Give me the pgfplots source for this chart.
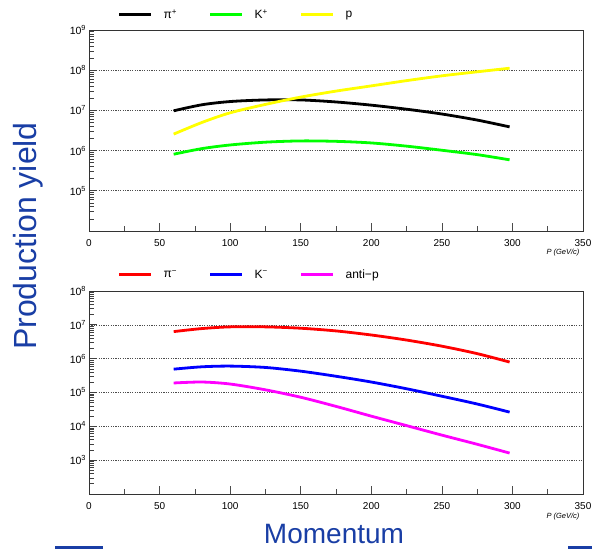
\documentclass[border=0pt]{standalone}
\usepackage{fontspec}
\setmainfont{Liberation Sans}
\usepackage{pgfplots}
\pgfplotsset{compat=1.18}
\definecolor{titleblue}{RGB}{25,62,165}
\definecolor{kgreen}{RGB}{0,255,0}
\definecolor{pyellow}{RGB}{255,255,0}
\definecolor{pimag}{RGB}{255,0,255}
\definecolor{kblue}{RGB}{0,0,255}
\definecolor{pired}{RGB}{255,0,0}

\pgfplotstableread{
x      pip      kp       p
60     9.77e6   8.13e5   2.57e6
80     1.38e7   1.12e6   5.01e6
100    1.66e7   1.38e6   8.71e6
125    1.82e7   1.62e6   1.41e7
150    1.82e7   1.74e6   2.14e7
175    1.62e7   1.70e6   3.02e7
200    1.35e7   1.55e6   4.07e7
225    1.07e7   1.29e6   5.50e7
250    8.13e6   1.02e6   7.24e7
275    5.75e6   7.94e5   9.12e7
298    3.89e6   5.89e5   1.12e8
}\toptable

\pgfplotstableread{
x      pim      km       ap
60     6.31e6   4.90e5   1.91e5
80     7.76e6   5.75e5   2.04e5
100    8.71e6   6.03e5   1.78e5
125    8.71e6   5.50e5   1.20e5
150    7.94e6   4.27e5   7.24e4
175    6.61e6   3.02e5   3.89e4
200    5.01e6   2.04e5   2.00e4
225    3.55e6   1.29e5   1.05e4
250    2.34e6   7.76e4   5.50e3
275    1.41e6   4.57e4   2.95e3
298    7.94e5   2.63e4   1.62e3
}\bottable

\pgfplotsset{
  myaxis/.style={
    scale only axis, width=494pt, xmin=0, xmax=350,
    xtick={0,50,...,350}, minor xtick={25,75,...,325},
    tick align=inside, xtick pos=bottom, ytick pos=left,
    ymajorticks=true, yminorticks=true,
    major tick length=8pt, minor tick length=5pt,
    xtick style={black!70, line width=0.7pt},
    ytick style={black!75, line width=0.7pt},
    axis line style={line width=0.7pt, black!80},
    ymajorgrids, major grid style={black!70, line width=0.6pt, dash pattern=on 1.2pt off 1.2pt},
    tick label style={font=\fontsize{10}{12}\selectfont},
    xticklabel style={yshift=-4.5pt},
    yticklabel style={xshift=-4pt, font=\fontsize{10.5}{12}\selectfont},
    /pgf/number format/assume math mode=true,
    legend columns=3,
    legend style={draw=none, fill=none, inner sep=0pt, outer sep=0pt,
      font=\fontsize{12}{14}\selectfont, anchor=west,
      /tikz/every even column/.append style={column sep=0pt}},
    legend image code/.code={\draw[line width=3pt] (0pt,0pt) -- (32pt,0pt);},
    clip=false,
  }
}

\begin{document}
\begin{tikzpicture}
\useasboundingbox (0,0) rectangle (592pt,549pt);

% top axis
\begin{semilogyaxis}[myaxis, log basis y=10, at={(89pt,318pt)}, anchor=south west, height=201pt,
  ymin=1e4, ymax=1e9,
  ytick={1e4,1e5,1e6,1e7,1e8,1e9},
  minor ytick={2e4,3e4,4e4,5e4,6e4,7e4,8e4,9e4,2e5,3e5,4e5,5e5,6e5,7e5,8e5,9e5,2e6,3e6,4e6,5e6,6e6,7e6,8e6,9e6,2e7,3e7,4e7,5e7,6e7,7e7,8e7,9e7,2e8,3e8,4e8,5e8,6e8,7e8,8e8,9e8},
  yticklabels={,10\rlap{\textsuperscript{5}},10\rlap{\textsuperscript{6}},10\rlap{\textsuperscript{7}},10\rlap{\textsuperscript{8}},10\rlap{\textsuperscript{9}}},
  legend style={at={(axis description cs:0.058,1.075)}},
]
\addplot[black, line width=2.8pt, smooth] table[x=x, y=pip] {\toptable};
\addlegendentry{\makebox[52pt][l]{\hspace{9pt}π\textsuperscript{+}}}
\addplot[kgreen, line width=2.8pt, smooth] table[x=x, y=kp] {\toptable};
\addlegendentry{\makebox[52pt][l]{\hspace{9pt}K\textsuperscript{+}}}
\addplot[pyellow, line width=2.8pt, smooth] table[x=x, y=p] {\toptable};
\addlegendentry{\makebox[52pt][l]{\hspace{9pt}p}}
\node[anchor=east, font=\fontsize{7.5}{9}\selectfont\itshape] at (rel axis cs:1,-0.108) {P (GeV/c)};
\end{semilogyaxis}

% bottom axis
\begin{semilogyaxis}[myaxis, log basis y=10, at={(89pt,55pt)}, anchor=south west, height=203pt,
  ymin=1e2, ymax=1e8,
  ytick={1e2,1e3,1e4,1e5,1e6,1e7,1e8},
  minor ytick={2e2,3e2,4e2,5e2,6e2,7e2,8e2,9e2,2e3,3e3,4e3,5e3,6e3,7e3,8e3,9e3,2e4,3e4,4e4,5e4,6e4,7e4,8e4,9e4,2e5,3e5,4e5,5e5,6e5,7e5,8e5,9e5,2e6,3e6,4e6,5e6,6e6,7e6,8e6,9e6,2e7,3e7,4e7,5e7,6e7,7e7,8e7,9e7},
  yticklabels={,10\rlap{\textsuperscript{3}},10\rlap{\textsuperscript{4}},10\rlap{\textsuperscript{5}},10\rlap{\textsuperscript{6}},10\rlap{\textsuperscript{7}},10\rlap{\textsuperscript{8}}},
  legend style={at={(axis description cs:0.058,1.079)}},
]
\addplot[pired, line width=2.8pt, smooth] table[x=x, y=pim] {\bottable};
\addlegendentry{\makebox[52pt][l]{\hspace{9pt}π\textsuperscript{−}}}
\addplot[kblue, line width=2.8pt, smooth] table[x=x, y=km] {\bottable};
\addlegendentry{\makebox[52pt][l]{\hspace{9pt}K\textsuperscript{−}}}
\addplot[pimag, line width=2.8pt, smooth] table[x=x, y=ap] {\bottable};
\addlegendentry{\makebox[52pt][l]{\hspace{9pt}anti−p}}
\node[anchor=east, font=\fontsize{7.5}{9}\selectfont\itshape] at (rel axis cs:1,-0.11) {P (GeV/c)};
\end{semilogyaxis}

\node[rotate=90, font=\fontsize{32}{36}\selectfont, text=titleblue] at (28pt,313pt) {Production yield};
\node[anchor=base, font=\fontsize{28}{32}\selectfont, text=titleblue] at (334pt,5pt) {Momentum};
\draw[titleblue, line width=2.5pt] (55pt,1.25pt) -- (103pt,1.25pt);
\draw[titleblue, line width=2.5pt] (568pt,1.25pt) -- (592pt,1.25pt);
\end{tikzpicture}
\end{document}
